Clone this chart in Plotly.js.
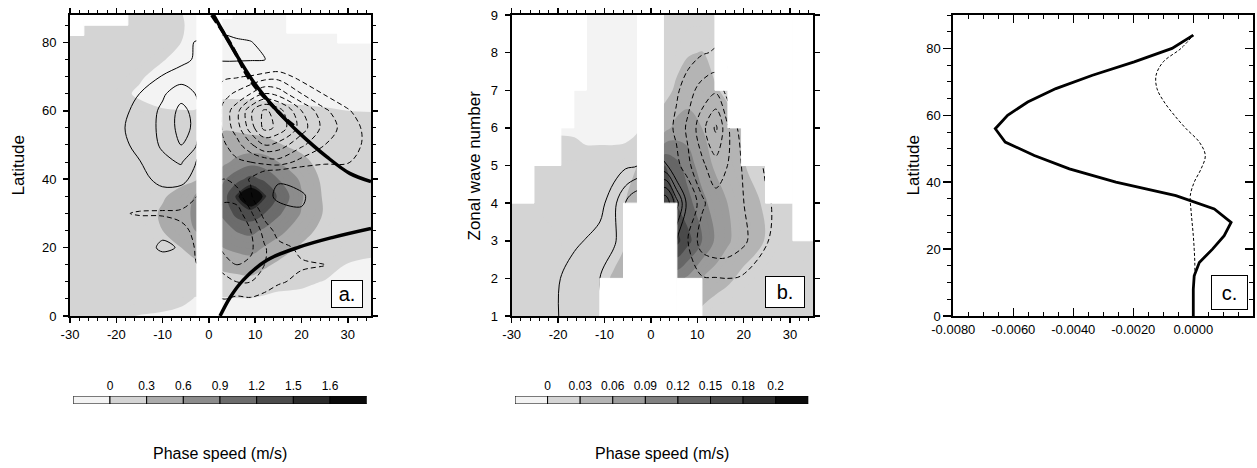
<!DOCTYPE html>
<html>
<head>
<meta charset="utf-8">
<script src="https://cdn.plot.ly/plotly-3.0.1.min.js"></script>
<style>html,body{margin:0;padding:0;background:#fff;}#chart{width:1257px;height:468px;}</style>
</head>
<body>
<div id="chart"></div>
<script>
const N = null;
// ---------- Panel a: phase speed (x) vs latitude (y) ----------
const a_x = [-30,-25,-20,-15,-10,-6,-3,0,3,6,9,12,15,20,25,30,35];
const a_lat = [0,5,10,15,20,25,30,35,40,45,50,55,60,65,70,75,80,85,88];
const a_shade = [
 [0.1,0.1,0.05,-0.01,-0.05,-0.12,-0.15,N,-0.15,-0.12,-0.1,-0.12,-0.12,-0.15,-0.15,-0.15,-0.15],
 [0.15,0.15,0.15,0.15,0.15,0.1,-0.02,N,-0.02,-0.01,-0.01,-0.04,-0.06,-0.06,-0.12,-0.15,-0.15],
 [0.15,0.15,0.15,0.15,0.15,0.15,0.15,N,0.18,0.2,0.22,0.15,0.08,0.04,-0.01,-0.08,-0.12],
 [0.15,0.15,0.15,0.15,0.15,0.17,0.25,N,0.38,0.42,0.45,0.35,0.25,0.12,0.1,-0.01,-0.04],
 [0.15,0.15,0.15,0.15,0.2,0.3,0.4,N,0.6,0.68,0.72,0.58,0.45,0.26,0.15,0.08,0.06],
 [0.15,0.15,0.15,0.15,0.3,0.45,0.6,N,0.78,0.92,0.98,0.85,0.7,0.42,0.2,0.12,0.12],
 [0.15,0.15,0.15,0.15,0.34,0.5,0.65,N,0.95,1.3,1.4,1.2,0.95,0.58,0.27,0.13,0.12],
 [0.15,0.15,0.15,0.15,0.27,0.4,0.62,N,1.05,1.55,1.9,1.55,1.15,0.63,0.25,0.14,0.12],
 [0.15,0.15,0.15,0.15,0.17,0.22,0.26,N,0.85,1.1,1.3,1.15,0.9,0.55,0.22,0.14,0.12],
 [0.15,0.15,0.15,0.15,0.15,0.15,0.18,N,0.52,0.68,0.8,0.75,0.6,0.38,0.18,0.13,0.12],
 [0.15,0.15,0.15,0.15,0.15,0.15,0.15,N,0.38,0.42,0.42,0.4,0.32,0.22,0.15,0.13,0.12],
 [0.15,0.15,0.15,0.15,0.15,0.15,0.15,N,0.28,0.26,0.22,0.2,0.18,0.15,0.1,0.12,0.12],
 [0.15,0.15,0.15,0.1,0.02,0.01,0.01,N,0.1,0.1,0.1,0.08,0.06,0.04,0.02,0.0,-0.01],
 [0.15,0.15,0.1,-0.05,-0.12,-0.15,-0.15,N,-0.05,-0.05,-0.05,-0.06,-0.07,-0.08,-0.08,-0.1,-0.1],
 [0.15,0.15,0.15,0.04,-0.12,-0.15,-0.15,N,-0.15,-0.15,-0.15,-0.15,-0.15,-0.15,-0.15,-0.15,-0.15],
 [0.15,0.15,0.15,0.15,0.02,-0.1,-0.15,N,-0.15,-0.15,-0.15,-0.15,-0.15,-0.15,-0.15,-0.15,-0.15],
 [0.15,0.15,0.15,0.15,0.15,0.0,-0.15,N,-0.15,-0.15,-0.15,-0.15,-0.15,-0.15,-0.15,-0.15,-0.15],
 [0.15,0.15,0.15,0.15,0.15,0.05,-0.15,N,-0.15,-0.15,-0.15,-0.15,-0.15,-0.15,-0.15,-0.15,-0.15],
 [0.15,0.15,0.15,0.15,0.15,0.02,-0.15,N,-0.15,-0.15,-0.15,-0.15,-0.15,-0.15,-0.15,-0.15,-0.15]
];
const a_lines = [
 [0,0,0,0,0,0,-0.2,N,-0.3,-0.4,-0.4,-0.3,-0.2,-0.1,0,0,0],
 [0,0,0,0.1,0.1,0,-0.4,N,-1.0,-0.8,-0.9,-0.7,-0.5,-0.3,-0.2,-0.1,0],
 [0,0,0,0.1,0.1,0,-0.6,N,-1.5,-2.0,-2.0,-1.5,-1.1,-0.8,-0.5,-0.2,0],
 [0,0,0,0.1,0.1,-0.1,-0.9,N,-2.5,-3.0,-2.8,-2.0,-1.4,-1.1,-1.05,-0.3,-0.1],
 [0,0,0,0.2,1.3,0.85,-1.1,N,-3.2,-3.8,-3.2,-2.1,-1.3,-0.8,-0.5,-0.2,-0.1],
 [0,0,-0.1,-0.3,0.6,-0.6,-1.3,N,-3.5,-4.0,-3.0,-1.6,-0.6,-0.2,-0.1,-0.1,0],
 [0,0,-0.85,-1.1,-1.3,-1.4,-1.6,N,-3.3,-3.5,-2.2,-0.6,0.5,0.9,0.1,0,0],
 [0,0,-0.1,-0.3,0.5,0.3,-0.9,N,-2.8,-2.5,-1.2,0.6,1.25,1.15,0.3,0,0],
 [0,0,0.2,0.6,1.4,1.4,0.6,N,-2.0,-1.6,-0.9,0.2,0.9,0.6,-0.3,-0.4,-0.3],
 [0,0.2,0.5,0.95,1.75,2.1,1.1,N,-1.5,-1.8,-2.0,-2.3,-2.6,-1.6,-1.1,-1.05,-0.6],
 [0,0.3,0.6,1.3,2.15,3.0,2.2,N,-1.8,-2.6,-3.8,-5.0,-4.6,-3.2,-2.0,-1.4,-0.7],
 [0,0.3,0.7,1.5,2.2,3.4,2.8,N,-2.2,-3.5,-5.5,-7.3,-6.8,-4.5,-2.6,-1.5,-0.6],
 [0,0.2,0.6,1.3,2.2,3.3,2.7,N,-2.3,-3.6,-5.8,-7.2,-6.5,-4.0,-2.2,-1.1,-0.3],
 [0,0.1,0.3,1.0,1.85,2.6,2.0,N,-1.6,-2.2,-3.0,-4.0,-3.6,-2.0,-0.9,-0.3,0],
 [0,0,0.1,0.5,1.05,1.5,1.4,N,-0.8,-0.9,-1.1,-1.5,-1.6,-0.6,-0.2,0,0],
 [0,0,0,0.2,0.5,0.7,1.1,N,1.2,1.2,1.15,1.05,0.5,0,0,0,0],
 [0,0,0,0,0.2,0.5,1.05,N,1.3,1.15,1.05,0.7,0.3,0,0,0,0],
 [0,0,0,0,0,0.2,0.5,N,0.6,0.5,0.4,0.2,0,0,0,0,0],
 [0,0,0,0,0,0,0.2,N,0.3,0.2,0.1,0,0,0,0,0,0]
];
// missing-data (white) cells of panel a: cell edges and 1 = missing
const a_mask_xe = [-30,-27,-17.5,-2.6,2.8,5,16.8,27.8,35];
const a_mask_ye = [0,79.8,82,82.7,85,87,88];
const a_mask = [
 [0,0,0,1,0,0,0,0],
 [0,0,0,1,0,0,0,1],
 [1,0,0,1,0,0,0,1],
 [1,0,0,1,0,0,1,1],
 [1,1,0,1,0,0,1,1],
 [1,1,0,1,1,0,1,1]
];
// thick critical curves in panel a
const a_upper_x = [1.0,5.3,9.6,14.6,19.6,25.4,30.4,35];
const a_upper_y = [88,77.8,68.5,60.2,53.4,46.6,41.7,39.3];
const a_dash_x = [0.6,4.6,8.9,12.5,16.8,18.5];
const a_dash_y = [88,79.7,69,63.2,57.3,55.5];
const a_lower_x = [2.4,4.6,7.4,12.5,19.6,26.8,35];
const a_lower_y = [0,5.5,10.5,16.3,20.2,23,25.6];
const a_levels = [0,0.3,0.6,0.9,1.2,1.5,1.6];
const a_cblabels = ['0','0.3','0.6','0.9','1.2','1.5','1.6'];
const a_colors = ['#f3f3f3','#d4d4d4','#ababab','#8c8c8c','#6c6c6c','#4c4c4c','#2b2b2b','#0a0a0a'];

// ---------- Panel b: phase speed (x) vs zonal wave number (y) ----------
const b_x = [-30,-25,-19.5,-16.5,-14,-11,-8,-5.5,-3,0,3,5.5,8,11,14,16.5,19.5,25,30.5,35];
const b_k = [1,2,3,4,5,6,7,8,9];
const b_shade = [
 [0.01,0.01,0.01,0.012,0.012,0.015,0.02,N,N,N,N,N,0.05,0.02,0.01,0.01,0.01,0.01,0.01,0.01],
 [0.01,0.01,0.01,0.012,0.015,0.022,0.033,0.045,N,N,N,0.1,0.085,0.06,0.045,0.035,0.025,0.015,0.01,0.01],
 [0.01,0.01,0.01,0.012,0.012,0.015,0.02,0.028,N,N,N,0.19,0.16,0.12,0.085,0.065,0.045,0.028,0.012,0.01],
 [0.01,0.01,0.012,0.012,0.012,0.014,0.018,0.03,0.05,N,0.16,0.15,0.13,0.1,0.075,0.06,0.045,0.025,0.012,0.01],
 [0.01,0.01,0.012,0.012,0.012,0.012,0.012,0.015,0.03,N,0.15,0.13,0.105,0.075,0.055,0.045,0.032,0.02,0.01,0.01],
 [-0.003,-0.003,-0.003,-0.004,-0.01,-0.01,-0.01,-0.01,-0.005,N,0.05,0.07,0.075,0.06,0.05,0.04,0.03,0.02,0.01,0.01],
 [-0.01,-0.01,-0.01,-0.01,-0.01,-0.01,-0.01,-0.01,-0.01,N,0.02,0.035,0.045,0.04,0.032,0.025,0.02,0.015,0.01,0.01],
 [-0.01,-0.01,-0.01,-0.01,-0.01,-0.01,-0.01,-0.01,-0.01,N,0.015,0.02,0.028,0.031,0.02,0.015,0.015,0.01,0.01,0.01],
 [-0.01,-0.01,-0.01,-0.01,-0.01,-0.01,-0.01,-0.01,-0.01,N,0.015,0.015,0.015,0.015,0.012,0.012,0.01,0.01,0.01,0.01]
];
const b_lines = [
 [0,0.3,1.05,1.3,1.5,1.8,2.2,N,N,N,N,N,-0.5,-0.3,-0.5,-0.5,-0.4,-0.2,0,0],
 [0,0.3,1.0,1.5,1.7,2.0,2.4,2.7,N,N,N,-0.5,-0.8,-0.9,-0.95,-1.0,-0.9,-0.5,-0.2,0],
 [0,0.1,0.5,0.8,1.05,1.4,1.9,2.4,N,N,N,1.0,-1.0,-2.5,-2.9,-2.8,-2.3,-1.05,-0.3,0],
 [0,0,0.1,0.2,0.3,0.6,1.7,3.0,4.0,N,6.0,3.5,0.5,-1.8,-2.6,-2.6,-2.1,-1.1,-0.5,0],
 [0,0,0,0,0,0.1,0.4,0.8,0.95,N,1.2,-0.6,-1.8,-2.8,-3.6,-3.0,-2.0,-0.8,-0.2,0],
 [0,0,0,0,0,0,0,0,0,N,-0.3,-1.3,-2.2,-3.6,-5.2,-3.2,-1.5,-0.5,0,0],
 [0,0,0,0,0,0,0,0,0,N,0,-0.8,-1.6,-2.4,-2.8,-1.6,-0.6,0,0,0],
 [0,0,0,0,0,0,0,0,0,N,0,-0.2,-0.5,-0.9,-1.1,-0.6,-0.2,0,0,0],
 [0,0,0,0,0,0,0,0,0,N,0,0,0,0,-0.3,-0.2,0,0,0,0]
];
// missing-data (white) cells of panel b: cell edges and 1 = missing
const b_mask_xe = [-30,-25.2,-19.4,-16.6,-13.9,-11,-5.9,-2.9,2.7,5.6,11,13.8,16.6,19.5,24.7,30.6,35];
const b_mask_ye = [1,2,3,4,5,6,7,8,9];
const b_mask = [
 [0,0,0,0,0,1,1,1,1,1,0,0,0,0,0,0],
 [0,0,0,0,0,0,1,1,1,0,0,0,0,0,0,0],
 [0,0,0,0,0,0,1,1,1,0,0,0,0,0,0,1],
 [1,0,0,0,0,0,0,1,0,0,0,0,0,0,1,1],
 [1,1,0,0,0,0,0,1,0,0,0,0,0,1,1,1],
 [1,1,1,0,0,0,0,1,0,0,0,0,1,1,1,1],
 [1,1,1,1,0,0,0,1,0,0,0,1,1,1,1,1],
 [1,1,1,1,0,0,0,1,0,0,0,1,1,1,1,1]
];
const b_levels = [0,0.03,0.06,0.09,0.12,0.15,0.18,0.2];
const b_cblabels = ['0','0.03','0.06','0.09','0.12','0.15','0.18','0.2'];
const b_colors = ['#f3f3f3','#d4d4d4','#b4b4b4','#9c9c9c','#818181','#666666','#4a4a4a','#2e2e2e','#0c0c0c'];

// ---------- Panel c: profiles vs latitude ----------
const c_lat = [0,4,8,12,16,20,24,28,32,36,40,44,48,52,56,60,64,68,72,76,80,84];
const c_solid = [0,0,0,0.00003,0.0002,0.00064,0.00103,0.00126,0.0007,-0.00058,-0.00258,-0.00413,-0.0053,-0.00627,-0.0066,-0.00619,-0.00552,-0.00458,-0.00336,-0.00197,-0.00071,0];
const c_dash_lat = [12,16,20,24,28,32,36,40,44,48,52,56,60,64,68,72,76,80,84];
const c_dash = [0.00005,0.00005,0.00003,0,-0.00004,-0.00008,-0.0001,0.00003,0.00026,0.0004,0.0002,-0.00024,-0.00063,-0.00097,-0.00121,-0.00124,-0.001,-0.00041,0];

const xt_ab = [-30,-20,-10,0,10,20,30];
const xt_ab_text = ['-30','-20','-10','0','10','20','30'];
const yt_a = [0,20,40,60,80];
const yt_b = [1,2,3,4,5,6,7,8,9];
const xt_c = [-0.008,-0.006,-0.004,-0.002,0];
const xt_c_text = ['-0.0080','-0.0060','-0.0040','-0.0020','0.0000'];
const yt_c = [0,20,40,60,80];

const FONT = 'Liberation Sans, Arial, Helvetica, sans-serif';

function bandScale(levels, colors, size) {
  const start = levels[0], end = levels[levels.length - 1];
  const nc = Math.round((end - start) / size) + 1;
  const cs = [];
  for (let k = 0; k <= nc; k++) {
    const v = start + (k - 0.5) * size;
    let idx = 0;
    levels.forEach(L => { if (L < v) idx++; });
    const c = colors[idx];
    cs.push([Math.max(0, (k - 0.4) / nc), c]);
    cs.push([Math.min(1, (k + 0.4) / nc), c]);
  }
  return {cs: cs, start: start, end: end, size: size};
}
function fillTrace(x, y, z, levels, colors, size, xa, ya) {
  const b = bandScale(levels, colors, size);
  return {type:'contour', x:x, y:y, z:z, xaxis:xa, yaxis:ya, autocontour:false,
    contours:{start:b.start, end:b.end, size:b.size, coloring:'fill', showlines:false},
    colorscale:b.cs, showscale:false, line:{width:0}, connectgaps:true, hoverinfo:'skip'};
}
function lineTrace(x, y, z, positive, xa, ya) {
  return {type:'contour', x:x, y:y, z:z, xaxis:xa, yaxis:ya, autocontour:false,
    contours: positive ? {start:1, end:12, size:1, coloring:'lines'} : {start:-12, end:-1, size:1, coloring:'lines'},
    colorscale:[[0,'#000'],[1,'#000']], showscale:false, connectgaps:true,
    line:{width:1, dash: positive ? 'solid' : '5px,3px'}, hoverinfo:'skip'};
}
// white bars covering missing-data cells (vertical runs merged per column)
function maskTrace(xe, ye, m, xa, ya) {
  const xs = [], ws = [], bs = [], hs = [];
  for (let c = 0; c < xe.length - 1; c++) {
    let r = 0;
    while (r < m.length) {
      if (m[r][c]) {
        let r2 = r;
        while (r2 + 1 < m.length && m[r2 + 1][c]) r2++;
        xs.push((xe[c] + xe[c + 1]) / 2); ws.push(xe[c + 1] - xe[c]);
        bs.push(ye[r]); hs.push(ye[r2 + 1] - ye[r]);
        r = r2 + 1;
      } else r++;
    }
  }
  return {type:'bar', x:xs, y:hs, base:bs, width:ws, xaxis:xa, yaxis:ya,
    marker:{color:'#ffffff', line:{color:'#ffffff', width:1}}, hoverinfo:'skip'};
}
function cbTrace(colors, xa, ya) {
  return {type:'bar', orientation:'h', x: colors.map(() => 1), base: colors.map((c, i) => i),
    y: colors.map(() => 0), width: 1, xaxis: xa, yaxis: ya,
    marker:{color: colors, line:{color:'#000', width:1}}, hoverinfo:'skip'};
}

const traces = [
  fillTrace(a_x, a_lat, a_shade, a_levels, a_colors, 0.1, 'x', 'y'),
  lineTrace(a_x, a_lat, a_lines, true, 'x', 'y'),
  lineTrace(a_x, a_lat, a_lines, false, 'x', 'y'),
  maskTrace(a_mask_xe, a_mask_ye, a_mask, 'x', 'y'),
  {type:'scatter', mode:'lines', x:a_upper_x, y:a_upper_y, xaxis:'x', yaxis:'y', line:{color:'#000', width:3.5, shape:'spline'}, hoverinfo:'skip'},
  {type:'scatter', mode:'lines', x:a_dash_x, y:a_dash_y, xaxis:'x', yaxis:'y', line:{color:'#000', width:3.5, dash:'9px,4px', shape:'spline'}, hoverinfo:'skip'},
  {type:'scatter', mode:'lines', x:a_lower_x, y:a_lower_y, xaxis:'x', yaxis:'y', line:{color:'#000', width:3.5, shape:'spline'}, hoverinfo:'skip'},
  fillTrace(b_x, b_k, b_shade, b_levels, b_colors, 0.01, 'x2', 'y2'),
  lineTrace(b_x, b_k, b_lines, true, 'x2', 'y2'),
  lineTrace(b_x, b_k, b_lines, false, 'x2', 'y2'),
  maskTrace(b_mask_xe, b_mask_ye, b_mask, 'x2', 'y2'),
  {type:'scatter', mode:'lines', x:c_dash, y:c_dash_lat, xaxis:'x3', yaxis:'y3', line:{color:'#000', width:1, dash:'3px,2px', shape:'spline'}, hoverinfo:'skip'},
  {type:'scatter', mode:'lines', x:c_solid, y:c_lat, xaxis:'x3', yaxis:'y3', line:{color:'#000', width:2.8}, hoverinfo:'skip'},
  {type:'scatter', mode:'lines', x:[], y:[], xaxis:'x3', yaxis:'y6', hoverinfo:'skip'},
  cbTrace(a_colors, 'x4', 'y4'),
  cbTrace(b_colors, 'x5', 'y5')
];

function ax(o) {
  return Object.assign({showgrid:false, zeroline:false, showline:true, linecolor:'#000', linewidth:2,
    ticks:'outside', ticklen:5, tickwidth:1.5, tickcolor:'#000', fixedrange:true,
    tickfont:{family:FONT, size:13, color:'#000'}}, o);
}
const minorA = (d) => ({tickmode:'linear', tick0:0, dtick:d, ticks:'outside', ticklen:3, tickwidth:1, tickcolor:'#000'});

const PA = [70/1257, 371/1257], PB = [511.7/1257, 813.3/1257], PC = [953.3/1257, 1253.3/1257];
const PY = [1 - 316/468, 1 - 15/468];
const CBY = [1 - 404/468, 1 - 396/468];

function panelLabel(txt, xr, yr, w, h, xs, ys) {
  return {text:txt, xref:xr, yref:yr, x:1, y:0, xanchor:'right', yanchor:'bottom', xshift:xs, yshift:ys, showarrow:false,
    width:w, height:h, align:'center', valign:'middle',
    font:{family:FONT, size:20, color:'#000'}, bgcolor:'#fff', bordercolor:'#000', borderwidth:1, borderpad:2};
}

const layout = {
  width:1257, height:468, margin:{l:0, r:0, t:0, b:0}, showlegend:false, barmode:'overlay',
  paper_bgcolor:'#fff', plot_bgcolor:'#fff', font:{family:FONT, color:'#000'},
  xaxis: ax({domain:PA, anchor:'y', range:[-30,35], tickmode:'array', tickvals:xt_ab, ticktext:xt_ab_text, mirror:'ticks', minor:minorA(2)}),
  yaxis: ax({domain:PY, anchor:'x', range:[0,88], tickmode:'array', tickvals:yt_a, mirror:'ticks', minor:minorA(5), ticklabelstandoff:4}),
  xaxis2: ax({domain:PB, anchor:'y2', range:[-30,35], tickmode:'array', tickvals:xt_ab, ticktext:xt_ab_text, mirror:'ticks', minor:minorA(2)}),
  yaxis2: ax({domain:PY, anchor:'x2', range:[1,9], tickmode:'array', tickvals:yt_b, mirror:'ticks', ticklabelstandoff:4}),
  xaxis3: ax({domain:PC, anchor:'y3', range:[-0.008,0.002], tickmode:'array', tickvals:xt_c, ticktext:xt_c_text, mirror:'ticks', ticks:'inside', ticklen:8,
    minor:{tickmode:'linear', tick0:0, dtick:0.0005, ticks:'inside', ticklen:4, tickwidth:1, tickcolor:'#000'}}),
  yaxis3: ax({domain:PY, anchor:'x3', range:[0,90], tickmode:'array', tickvals:yt_c, mirror:true, ticklen:8,
    minor:{tickmode:'linear', tick0:0, dtick:5, ticks:'outside', ticklen:4, tickwidth:1, tickcolor:'#000'}}),
  yaxis6: ax({domain:PY, anchor:'x3', overlaying:'y3', side:'right', range:[0,90], showline:false, tickmode:'array', tickvals:yt_c, showticklabels:false, ticks:'inside', ticklen:8,
    minor:{tickmode:'linear', tick0:0, dtick:5, ticks:'inside', ticklen:4, tickwidth:1, tickcolor:'#000'}}),
  xaxis4: {domain:[73.3/1257, 366.7/1257], anchor:'y4', range:[0,8], tickmode:'array', tickvals:a_levels.map((v,i)=>i+1), ticktext:a_cblabels,
    side:'top', ticks:'', showline:false, showgrid:false, zeroline:false, fixedrange:true, tickfont:{family:FONT, size:12, color:'#000'}, ticklabelstandoff:3},
  yaxis4: {domain:CBY, anchor:'x4', range:[-0.5,0.5], visible:false, fixedrange:true},
  xaxis5: {domain:[515/1257, 808.3/1257], anchor:'y5', range:[0,9], tickmode:'array', tickvals:b_levels.map((v,i)=>i+1), ticktext:b_cblabels,
    side:'top', ticks:'', showline:false, showgrid:false, zeroline:false, fixedrange:true, tickfont:{family:FONT, size:12, color:'#000'}, ticklabelstandoff:3},
  yaxis5: {domain:CBY, anchor:'x5', range:[-0.5,0.5], visible:false, fixedrange:true},
  annotations: [
    {text:'Latitude', xref:'paper', yref:'paper', x:18/1257, y:1-165.5/468, xanchor:'center', yanchor:'middle', textangle:-90, showarrow:false, font:{family:FONT, size:17}},
    {text:'Zonal wave number', xref:'paper', yref:'paper', x:474/1257, y:1-165.5/468, xanchor:'center', yanchor:'middle', textangle:-90, showarrow:false, font:{family:FONT, size:17}},
    {text:'Latitude', xref:'paper', yref:'paper', x:913/1257, y:1-165.5/468, xanchor:'center', yanchor:'middle', textangle:-90, showarrow:false, font:{family:FONT, size:17}},
    {text:'Phase speed (m/s)', xref:'paper', yref:'paper', x:220/1257, y:1-453/468, xanchor:'center', yanchor:'middle', showarrow:false, font:{family:FONT, size:16}},
    {text:'Phase speed (m/s)', xref:'paper', yref:'paper', x:662/1257, y:1-453/468, xanchor:'center', yanchor:'middle', showarrow:false, font:{family:FONT, size:16}},
    panelLabel('a.', 'x domain', 'y domain', 26, 22, -8, 8),
    panelLabel('b.', 'x2 domain', 'y2 domain', 34, 26, -8, 8),
    panelLabel('c.', 'x3 domain', 'y3 domain', 31, 29, -5, 6)
  ]
};

Plotly.newPlot('chart', traces, layout, {staticPlot:true, displayModeBar:false});
</script>
</body>
</html>
